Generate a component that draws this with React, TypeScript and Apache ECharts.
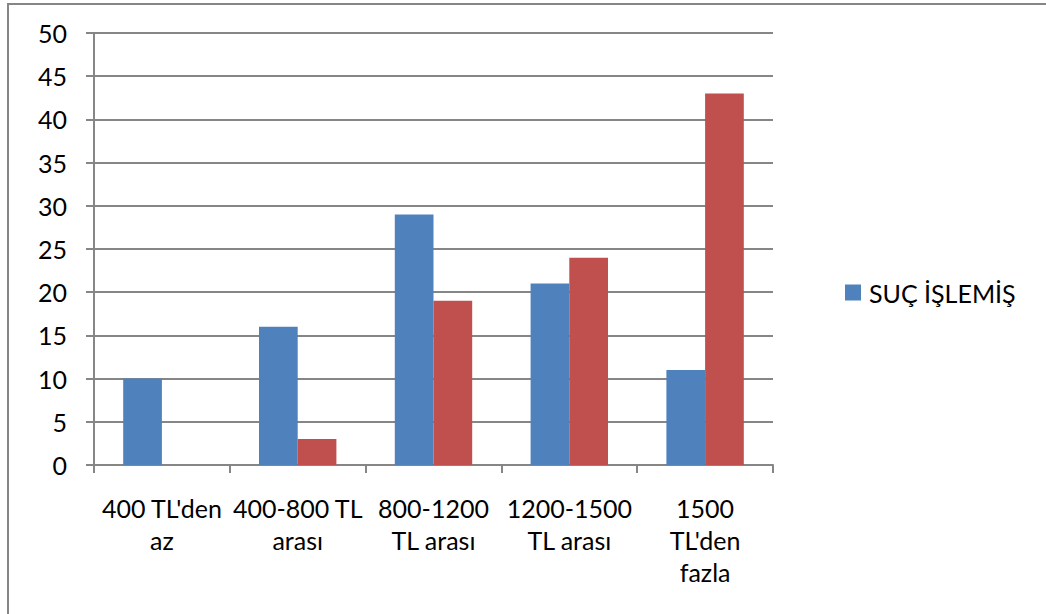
import React, { useEffect, useRef } from "react";
import * as echarts from "echarts";

const categories = ["400 TL'den\naz", "400-800 TL\narası", "800-1200\nTL arası", "1200-1500\nTL arası", "1500\nTL'den\nfazla"];
const blueName = "SUÇ İŞLEMİŞ";
const blueValues = [10, 16, 29, 21, 11];
const redName = "SUÇ İŞLEMEMİŞ";
const redValues = [0, 3, 19, 24, 43];
const yTicks = { min: 0, max: 50, interval: 5 };

const FONT = "Lato, 'Open Sans', sans-serif";
const GRAY = "#868686";
const FS = 25;

export default function App() {
  const ref = useRef<HTMLDivElement>(null);
  useEffect(() => {
    const chart = echarts.init(ref.current!, null, { renderer: "svg" });
    chart.setOption({
      animation: false,
      textStyle: { fontFamily: FONT },
      graphic: [
        {
          type: "rect",
          shape: { x: 8, y: 4, width: 1100, height: 700 },
          style: { fill: "none", stroke: GRAY, lineWidth: 2 },
          silent: true,
        },
      ],
      grid: { left: 94, right: 273, top: 33, bottom: 149, containLabel: false },
      legend: {
        data: [blueName],
        left: 840,
        top: 275,
        icon: "rect",
        itemWidth: 16,
        itemHeight: 16,
        textStyle: { fontSize: FS, color: "#000", fontFamily: FONT, padding: [0, 0, 0, 3] },
      },
      xAxis: {
        type: "category",
        data: categories,
        axisLine: { lineStyle: { color: GRAY, width: 2 } },
        axisTick: { show: true, length: 8, lineStyle: { color: GRAY, width: 2 } },
        axisLabel: {
          interval: 0,
          margin: 27,
          fontSize: FS,
          lineHeight: 32,
          color: "#000",
          fontFamily: FONT,
        },
      },
      yAxis: {
        type: "value",
        min: yTicks.min,
        max: yTicks.max,
        interval: yTicks.interval,
        axisLine: { show: true, lineStyle: { color: GRAY, width: 2 } },
        axisTick: { show: true, length: 8, lineStyle: { color: GRAY, width: 2 } },
        splitLine: { lineStyle: { color: GRAY, width: 2 } },
        axisLabel: { margin: 27, fontSize: FS, color: "#000", fontFamily: FONT },
      },
      series: [
        {
          name: blueName,
          type: "bar",
          data: blueValues,
          barGap: "0%",
          barCategoryGap: "43%",
          itemStyle: { color: "#4F81BD" },
        },
        {
          name: redName,
          type: "bar",
          data: redValues,
          itemStyle: { color: "#C0504D" },
        },
      ],
    });
    return () => chart.dispose();
  }, []);
  return (
    <div
      ref={ref}
      style={{ position: "fixed", left: 0, top: 0, width: 1046, height: 614, background: "#fff" }}
    />
  );
}
